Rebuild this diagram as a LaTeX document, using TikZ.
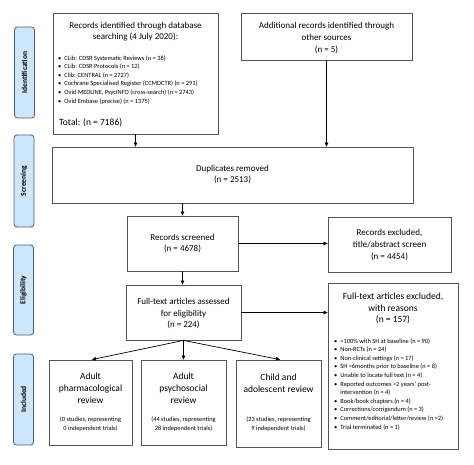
\documentclass[tikz,border=0pt]{standalone}
\usepackage{fontspec}
\setmainfont{Carlito}
\usetikzlibrary{arrows.meta}
\definecolor{sidefill}{RGB}{206,230,250}
\definecolor{sidedraw}{RGB}{70,95,130}
\definecolor{boxdraw}{RGB}{85,85,85}
\newcommand{\fsTitle}{\fontsize{9}{11.6}\selectfont}
\newcommand{\fsSmall}{\fontsize{6.4}{8.6}\selectfont}
\newcommand{\fsBig}{\fontsize{9.5}{11.7}\selectfont}
\begin{document}
\begin{tikzpicture}[x=1pt,y=-1pt,
  box/.style={draw=boxdraw, line width=0.8pt, inner sep=0pt, rectangle},
  side/.style={draw=sidedraw, fill=sidefill, rounded corners=3pt, line width=0.8pt,
    inner sep=0pt, rotate=90, minimum height=20pt, font=\fontsize{7.5}{9}\selectfont\bfseries},
  txt/.style={inner sep=0pt, align=center, font=\fsTitle},
  big/.style={inner sep=0pt, align=center, font=\fsBig},
  small/.style={inner sep=0pt, align=center, font=\fsSmall},
  blist/.style={inner sep=0pt, anchor=north west, font=\fsSmall},
  arr/.style={-{Triangle[length=4pt,width=3.6pt]}, line width=0.7pt, black}
]
\useasboundingbox (0,0) rectangle (474,465);

% side labels
\node[side, minimum width=91pt] (sid) at (24.5,72.5) {Identification};
\node[side, minimum width=92pt] (sscr) at (24,181) {Screening};
\node[side, minimum width=90pt] (selig) at (23.5,290) {Eligibility};
\node[side, minimum width=91pt] (sinc) at (23.5,399.5) {Included};

% boxes
\node[box, minimum width=165pt, minimum height=121pt] (db) at (135.5,73.5) {};
\node[txt] (dbtitle) at (135.5,31.5) {Records identified through database\\searching (4 July 2020):};
\node[blist] (dblist) at (58,53.8) {\begin{tabular}{@{}l@{\hspace{3pt}}l@{}}
\textbullet & CLib: CDSR Systematic Reviews (n = 38)\\
\textbullet & CLib: CDSR Protocols (n = 12)\\
\textbullet & Clib: CENTRAL (n = 2727)\\
\textbullet & Cochrane Specialised Register (CCMDCTR) (n = 291)\\
\textbullet & Ovid MEDLINE, PsycINFO (cross-search) (n = 2743)\\
\textbullet & Ovid Embase (precise) (n = 1375)
\end{tabular}};
\node[inner sep=0pt, anchor=west, font=\fsBig] (dbtotal) at (59,123) {Total: (n = 7186)};

\node[box, minimum width=171pt, minimum height=47pt] (add) at (326.5,36.5) {};
\node[txt] (addtext) at (326.5,38) {Additional records identified through\\other sources\\(n = 5)};

\node[box, minimum width=361pt, minimum height=56pt] (dup) at (232.5,175) {};
\node[txt] (duptext) at (232.5,174.5) {Duplicates removed\\(n = 2513)};

\node[box, minimum width=111pt, minimum height=55pt] (scr) at (182.5,243.5) {};
\node[txt] (scrtext) at (182.5,243.5) {Records screened\\(n = 4678)};

\node[box, minimum width=123pt, minimum height=55pt] (excl) at (389.5,244.5) {};
\node[txt] (excltext) at (389.5,245) {Records excluded,\\title/abstract screen\\(n = 4454)};

\node[box, minimum width=115pt, minimum height=55pt] (ft) at (183.5,312.5) {};
\node[txt] (fttext) at (183.5,313.5) {Full-text articles assessed\\for eligibility\\(n = 224)};

\node[box, minimum width=130pt, minimum height=166pt] (ftx) at (393,366) {};
\node[big] (ftxtitle) at (393,308.5) {Full-text articles excluded,\\with reasons\\(n = 157)};
\node[blist] (ftxlist) at (334,336.8) {\begin{tabular}{@{}l@{\hspace{3pt}}l@{}}
\textbullet & <100\% with SH at baseline (n = 90)\\
\textbullet & Non-RCTs (n = 24)\\
\textbullet & Non-clinical settings (n = 17)\\
\textbullet & SH >6months prior to baseline (n = 8)\\
\textbullet & Unable to locate full text (n = 4)\\
\textbullet & Reported outcomes >2 years' post-\\
 & intervention (n = 4)\\
\textbullet & Book/book chapters (n = 4)\\
\textbullet & Corrections/corrigendum (n = 3)\\
\textbullet & Comment/editorial/letter/review (n =2)\\
\textbullet & Trial terminated (n = 1)
\end{tabular}};

\node[box, minimum width=83pt, minimum height=85pt] (pharm) at (90.5,402.5) {};
\node[big] (pharmtitle) at (90.5,388.3) {Adult\\pharmacological\\review};
\node[small] (pharmsub) at (90.5,424) {(0 studies, representing\\0 independent trials)};

\node[box, minimum width=85pt, minimum height=85pt] (psy) at (183.5,402.5) {};
\node[big] (psytitle) at (183.5,388.3) {Adult\\psychosocial\\review};
\node[small] (psysub) at (183.5,424) {(44 studies, representing\\28 independent trials)};

\node[box, minimum width=85pt, minimum height=87pt] (child) at (278.5,403.5) {};
\node[big] (childtitle) at (278.5,383) {Child and\\adolescent review};
\node[small] (childsub) at (278.5,424) {(23 studies, representing\\9 independent trials)};

% connectors
\draw[arr] (db.south) -- (db.south |- dup.north);
\draw[arr] (add.south) -- (add.south |- dup.north);
\draw[arr] (scr.north |- dup.south) -- (scr.north);
\draw[arr] (scr.east) -- (scr.east -| excl.west);
\draw[arr] (scr.south) -- (scr.south |- ft.north);
\draw[arr] (ft.east) -- (ft.east -| ftx.west);
\draw[arr] (ft.south) -- ([xshift=1.5pt]pharm.north);
\draw[arr] (ft.south) -- (ft.south |- psy.north);
\draw[arr] (ft.south) -- ([xshift=1.5pt]child.north);
\end{tikzpicture}
\end{document}
